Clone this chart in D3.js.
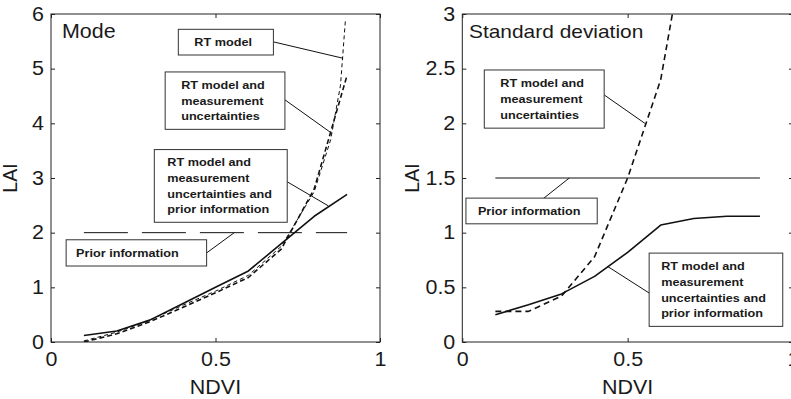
<!DOCTYPE html>
<html><head><meta charset="utf-8">
<script src="https://cdn.jsdelivr.net/npm/d3@7"></script>
<style>
body{margin:0;background:#fff;}
svg{display:block;}
text{font-family:"Liberation Sans",Arial,Helvetica,sans-serif;fill:#1a1a1a;}
</style></head><body>
<svg id="c" width="791" height="399"></svg>
<script>
// ---------- data ----------
const ndvi      = [0.1,0.2,0.3,0.4,0.5,0.6,0.7,0.8,0.9];
const modeFull  = [0.12,0.2,0.4,0.7,1.0,1.3,1.8,2.3,2.7];
const modeMeas  = [0.0,0.15,0.37,0.63,0.9,1.18,1.7,2.8,4.88];
const ndviRT    = [0.1,0.2,0.3,0.4,0.5,0.6,0.7,0.8,0.85,0.88,0.895];
const modeRT    = [0.02,0.18,0.4,0.67,0.93,1.22,1.75,2.75,3.7,4.7,5.9];
const modePrior = 2;
const stdFull   = [0.25,0.34,0.44,0.6,0.82,1.07,1.13,1.15,1.15];
const stdMeas   = [0.28,0.28,0.42,0.78,1.5,2.4,4.1];
const stdPrior  = 1.5;
const priorRange = [0.1,0.9];
const xTicks    = [0,0.5,1];
const modeTicks = [0,1,2,3,4,5,6];
const stdTicks  = [0,0.5,1,1.5,2,2.5,3];
const labelRT      = ["RT model"];
const labelMeas    = ["RT model and","measurement","uncertainties"];
const labelFull    = ["RT model and","measurement","uncertainties and","prior information"];
const labelPrior   = ["Prior information"];

// ---------- drawing ----------
const svg = d3.select('#c');
const STRETCH = 1.1;
const AXFONT = 19.5;
function stretch(sel){
  sel.each(function(){
    const l = this.getComputedTextLength();
    if(l>0){ this.setAttribute('textLength', l*STRETCH); this.setAttribute('lengthAdjust','spacingAndGlyphs'); }
  });
}
let clipId = 0;
function panel(cfg){
  const x = d3.scaleLinear().domain([0,1]).range([cfg.x0,cfg.x1]);
  const y = d3.scaleLinear().domain([0,cfg.ymax]).range([342,14]);
  const g = svg.append('g');
  const id = 'clip'+(clipId++);
  g.append('clipPath').attr('id',id).append('rect')
    .attr('x',x(0)).attr('y',y(cfg.ymax)).attr('width',x(1)-x(0)).attr('height',y(0)-y(cfg.ymax));

  const fmt = d3.format('~g');
  const axStyle = a => { a.select('.domain').remove(); a.selectAll('line').attr('stroke','#222'); };
  const bx = g.append('g').attr('transform',`translate(0,${y(0)})`)
    .call(d3.axisBottom(x).tickValues(xTicks).tickSizeInner(-4).tickSizeOuter(0).tickPadding(10).tickFormat(fmt));
  axStyle(bx);
  const tx = g.append('g').attr('transform',`translate(0,${y(cfg.ymax)})`)
    .call(d3.axisTop(x).tickValues(xTicks).tickSizeInner(-4).tickSizeOuter(0).tickFormat(''));
  axStyle(tx);
  const ly = g.append('g').attr('transform',`translate(${x(0)},0)`)
    .call(d3.axisLeft(y).tickValues(cfg.ticks).tickSizeInner(-4).tickSizeOuter(0).tickPadding(7).tickFormat(fmt));
  axStyle(ly);
  const ry = g.append('g').attr('transform',`translate(${x(1)},0)`)
    .call(d3.axisRight(y).tickValues(cfg.ticks).tickSizeInner(-4).tickSizeOuter(0).tickFormat(''));
  axStyle(ry);
  [bx,ly].forEach(a=>{
    a.selectAll('text').attr('font-size',AXFONT).attr('fill','#1a1a1a')
     .style('font-family','"Liberation Sans",Arial,Helvetica,sans-serif');
    stretch(a.selectAll('text'));
  });
  g.append('rect').attr('x',x(0)).attr('y',y(cfg.ymax)).attr('width',x(1)-x(0)).attr('height',y(0)-y(cfg.ymax))
    .attr('fill','none').attr('stroke','#222').attr('stroke-width',1);

  // axis labels
  const xl = g.append('text').attr('x',(x(0)+x(1))/2 + cfg.xlabDx).attr('y',394).attr('text-anchor','middle')
    .attr('font-size',AXFONT).text('NDVI');
  stretch(xl);
  g.append('text').attr('transform',`translate(${cfg.ylabX},178) rotate(-90)`).attr('text-anchor','middle')
    .attr('font-size',AXFONT).text('LAI');
  const tt = g.append('text').attr('x',cfg.titleX).attr('y',38).attr('font-size',cfg.titleSize).text(cfg.title);
  stretch(tt);

  // series
  const plot = g.append('g').attr('clip-path',`url(#${id})`);
  const line = d3.line().x(d=>x(d[0])).y(d=>y(d[1]));
  cfg.series.forEach(s=>{
    plot.append('path').datum(d3.zip(s.x,s.y)).attr('d',line)
      .attr('fill','none').attr('stroke','#111').attr('stroke-width',s.w)
      .attr('stroke-dasharray',s.dash||null).attr('stroke-linejoin','round');
  });

  // annotations
  cfg.notes.forEach(n=>{
    const ng = g.append('g');
    ng.append('line').attr('x1',x(n.from[0])).attr('y1',y(n.from[1])).attr('x2',x(n.to[0])).attr('y2',y(n.to[1]))
      .attr('stroke','#111').attr('stroke-width',1);
    const bx0 = x(n.box[0]), bx1 = x(n.box[1]), by0 = y(n.box[2]), by1 = y(n.box[3]);
    ng.append('rect').attr('x',bx0).attr('y',by0).attr('width',bx1-bx0).attr('height',by1-by0)
      .attr('fill','#fff').attr('stroke','#333').attr('stroke-width',1);
    const cy = (by0+by1)/2, lh = 15.7, nl = n.lines.length;
    n.lines.forEach((t,i)=>{
      const tx = ng.append('text').attr('x',bx0+n.pad).attr('y',cy+(i-(nl-1)/2)*lh+4)
        .attr('font-size',11.5).attr('font-weight','bold').text(t);
      stretch(tx);
    });
  });
}

panel({
  x0:51, x1:380, ymax:6, ticks:modeTicks, title:'Mode', titleX:62, titleSize:AXFONT, ylabX:17, xlabDx:0,
  series:[
    {x:ndvi, y:modeFull, w:1.6},
    {x:ndvi, y:modeMeas, w:1.6, dash:'5,3'},
    {x:ndviRT, y:modeRT, w:1, dash:'4,3'},
    {x:priorRange, y:[modePrior,modePrior], w:1, dash:'44,14'}
  ],
  notes:[
    {lines:labelRT,    box:[0.387,0.676,5.72,5.25], pad:16, from:[0.676,5.49], to:[0.888,5.19]},
    {lines:labelMeas,  box:[0.347,0.711,4.94,3.89], pad:16, from:[0.711,4.43], to:[0.853,3.82]},
    {lines:labelFull,  box:[0.314,0.718,3.52,2.19], pad:13, from:[0.718,2.93], to:[0.843,2.49]},
    {lines:labelPrior, box:[0.046,0.473,1.87,1.39], pad:10, from:[0.473,1.63], to:[0.557,2.0]}
  ]
});

panel({
  x0:462.3, x1:793, ymax:3, ticks:stdTicks, title:'Standard deviation', titleX:469, titleSize:19, ylabX:419, xlabDx:0,
  series:[
    {x:ndvi, y:stdFull, w:1.6},
    {x:ndvi.slice(0,stdMeas.length), y:stdMeas, w:1.6, dash:'6,4'},
    {x:priorRange, y:[stdPrior,stdPrior], w:1}
  ],
  notes:[
    {lines:labelMeas,  box:[0.0665,0.429,2.488,1.956], pad:16, from:[0.429,2.26], to:[0.552,2.0]},
    {lines:labelPrior, box:[0.011,0.408,1.316,1.081], pad:12, from:[0.240,1.30], to:[0.3235,1.5]},
    {lines:labelFull,  box:[0.565,0.969,0.813,0.143], pad:12, from:[0.565,0.448], to:[0.44,0.69]}
  ]
});
</script>
</body></html>
